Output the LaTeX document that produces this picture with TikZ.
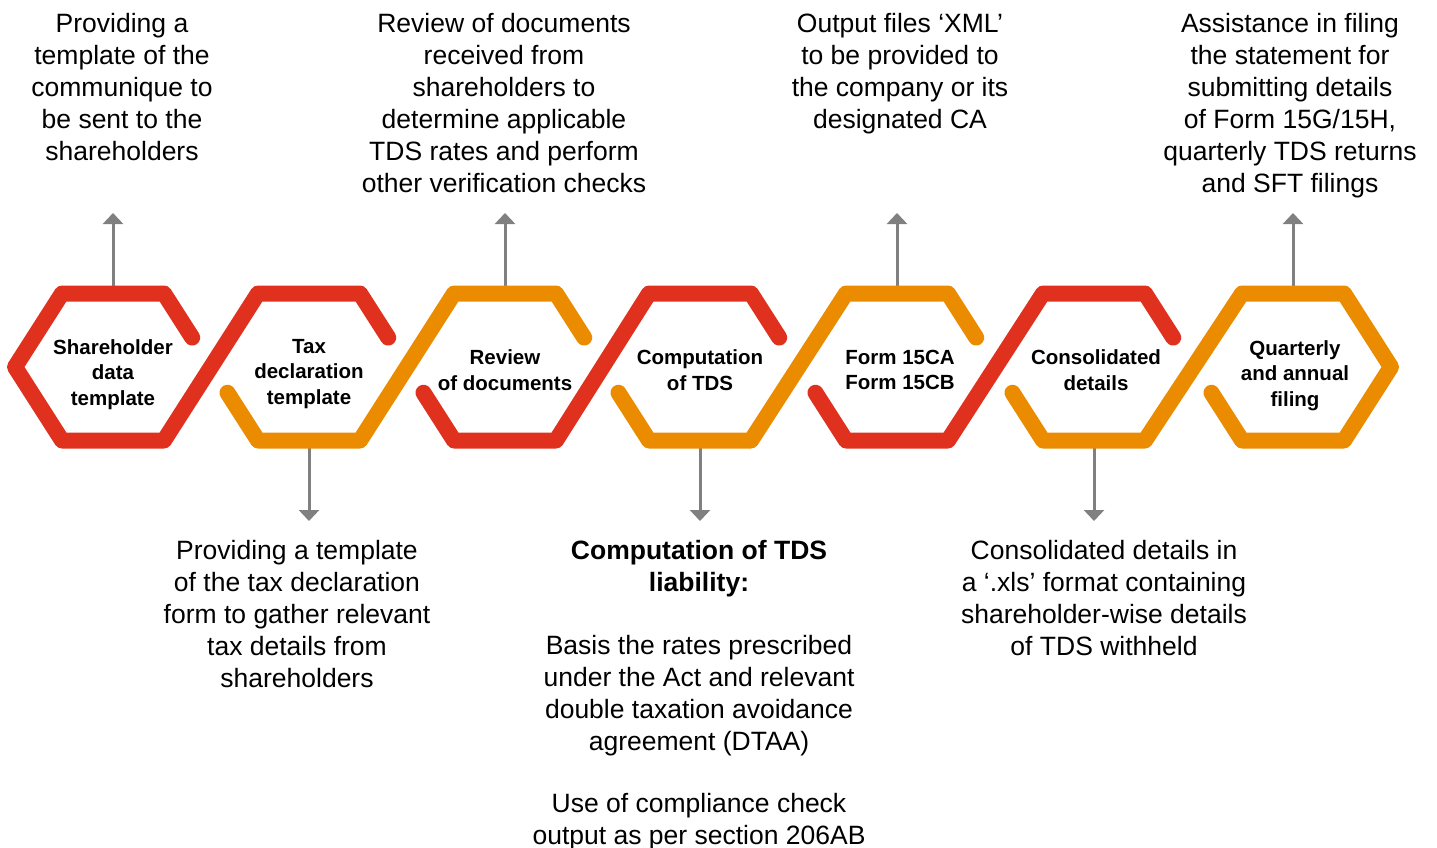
\documentclass[tikz,border=0pt]{standalone}
\usepackage{fontspec}
\setmainfont{Liberation Sans}
\usetikzlibrary{calc,arrows.meta}
\definecolor{pwcred}{HTML}{E0301E}
\definecolor{pwcorange}{HTML}{EB8C00}
\definecolor{arrgray}{HTML}{808080}
\begin{document}
\begin{tikzpicture}[x=1pt,y=-1pt,
  band/.style={line width=16pt, line cap=round, line join=round},
  arr/.style={draw=arrgray, line width=3pt, -{Triangle[width=20pt,length=11pt]}},
  desc/.style={align=center, inner sep=0pt, anchor=north, font=\fontsize{26.5}{32}\selectfont},
  hexlabel/.style={align=center, inner sep=0pt, anchor=north, font=\bfseries\fontsize{20.5}{25.5}\selectfont}]
\useasboundingbox (0,0) rectangle (1437,848);

% hexagon geometry
\foreach \i/\cx in {1/113,2/309,3/505,4/700,5/897,6/1094,7/1293}{
  \coordinate (TL\i) at ({\cx-51},293.5);
  \coordinate (TR\i) at ({\cx+51},293.5);
  \coordinate (BL\i) at ({\cx-51},440.5);
  \coordinate (BR\i) at ({\cx+51},440.5);
  \coordinate (L\i) at ({\cx-98},367);
  \coordinate (R\i) at ({\cx+98},367);
  \coordinate (S\i) at ($(TR\i)!0.6!(R\i)$);
  \coordinate (Q\i) at ($(BL\i)!0.65!(L\i)$);
  \coordinate (top\i) at (\cx,293.5);
  \coordinate (bot\i) at (\cx,440.5);
  \coordinate (up\i) at (\cx,213);
  \coordinate (down\i) at (\cx,521);
}

% arrows
\draw[arr] (top1) -- (up1);
\draw[arr] (top3) -- (up3);
\draw[arr] (top5) -- (up5);
\draw[arr] (top7) -- (up7);
\draw[arr] (bot2) -- (down2);
\draw[arr] (bot4) -- (down4);
\draw[arr] (bot6) -- (down6);

% chain of hexagons
\draw[band, pwcred] (S1) -- (TR1) -- (TL1) -- (L1) -- (BL1) -- (BR1) -- (TL2) -- (TR2) -- (S2);
\draw[band, pwcorange] (Q2) -- (BL2) -- (BR2) -- (TL3) -- (TR3) -- (S3);
\draw[band, pwcred] (Q3) -- (BL3) -- (BR3) -- (TL4) -- (TR4) -- (S4);
\draw[band, pwcorange] (Q4) -- (BL4) -- (BR4) -- (TL5) -- (TR5) -- (S5);
\draw[band, pwcred] (Q5) -- (BL5) -- (BR5) -- (TL6) -- (TR6) -- (S6);
\draw[band, pwcorange] (Q6) -- (BL6) -- (BR6) -- (TL7) -- (TR7) -- (R7) -- (BR7) -- (BL7) -- (Q7);

% hexagon labels
\node[hexlabel] (h1) at (113,339) {Shareholder\\data\\template};
\node[hexlabel] (h2) at (309,339) {Tax\\declaration\\template};
\node[hexlabel] (h3) at (505,349.5) {Review\\of documents};
\node[hexlabel] (h4) at (700,349.5) {Computation\\of TDS};
\node[hexlabel] (h5) at (900,349.5) {Form 15CA\\Form 15CB};
\node[hexlabel] (h6) at (1096,349.5) {Consolidated\\details};
\node[hexlabel] (h7) at (1295,340) {Quarterly\\and annual\\filing};

% descriptions above
\node[desc] (d1) at (122,13) {Providing a\\template of the\\communique to\\be sent to the\\shareholders};
\node[desc] (d3) at (504,13) {Review of documents\\received from\\shareholders to\\determine applicable\\TDS rates and perform\\other verification checks};
\node[desc] (d5) at (900,13) {Output files ‘XML’\\to be provided to\\the company or its\\designated CA};
\node[desc] (d7) at (1290,13) {Assistance in filing\\the statement for\\submitting details\\of Form 15G/15H,\\quarterly TDS returns\\and SFT filings};

% descriptions below
\node[desc] (d2) at (297,540.5) {Providing a template\\of the tax declaration\\form to gather relevant\\tax details from\\shareholders};
\node[desc] (d4) at (699,540.5) {\textbf{Computation of TDS}\\\textbf{liability:}\\[31pt]Basis the rates prescribed\\under the Act and relevant\\double taxation avoidance\\agreement (DTAA)\\[30pt]Use of compliance check\\output as per section 206AB};
\node[desc] (d6) at (1104,540.5) {Consolidated details in\\a ‘.xls’ format containing\\shareholder-wise details\\of TDS withheld};
\end{tikzpicture}
\end{document}
